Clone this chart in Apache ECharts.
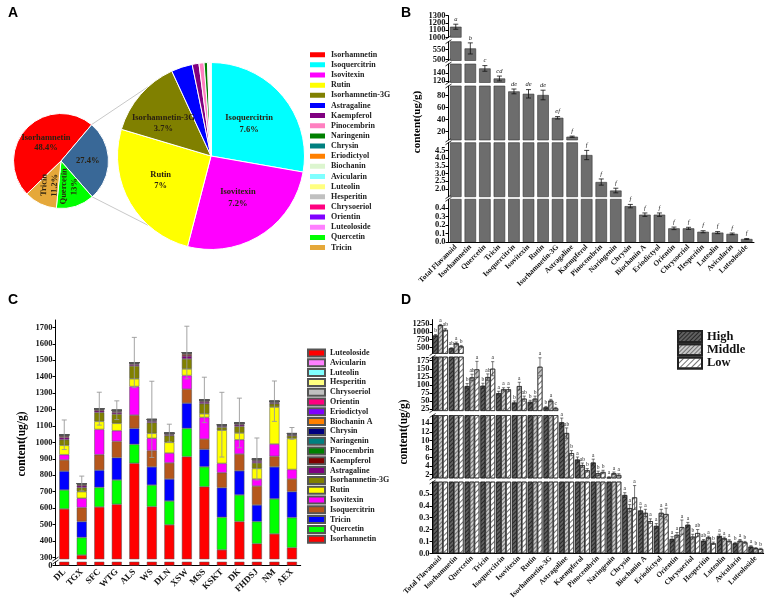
<!DOCTYPE html>
<html><head><meta charset="utf-8">
<script src="https://cdn.jsdelivr.net/npm/echarts@6/dist/echarts.min.js"></script>
<style>
html,body{margin:0;padding:0;background:#fff;width:767px;height:598px;overflow:hidden}
.c{position:absolute;left:0;top:0;width:767px;height:598px}
</style></head><body>
<div id="pa" class="c"></div><div id="pb" class="c"></div><div id="pc" class="c"></div><div id="pd" class="c"></div>
<script>
// ---------------- Panel A data ----------------
const aSmallNames = ['Isorhamnetin','Others','Quercetin','Tricin'];
const aSmallValues = [48.4, 27.4, 13, 11.2];
const aSmallLabels = ['Isorhamnetin\n48.4%','27.4%','Quercetin\n13%','Tricin\n11.2%'];
const aLargeNames = ['Isoquercitrin','Isovitexin','Rutin','Isorhamnetin-3G','Astragaline','Kaempferol','Pinocembrin','Naringenin','Chrysin','Eriodictyol','Biochanin','Avicularin','Luteolin','Hesperitin','Chrysoeriol','Orientin','Luteoloside'];
const aLargeValues = [7.6, 7.2, 7.0, 3.7, 1.0, 0.32, 0.24, 0.16, 0.04, 0.03, 0.03, 0.01, 0.01, 0.01, 0.015, 0.015, 0.005];
const aLegendNames = ['Isorhamnetin','Isoquercitrin','Isovitexin','Rutin','Isorhamnetin-3G','Astragaline','Kaempferol','Pinocembrin','Naringenin','Chrysin','Eriodictyol','Biochanin','Avicularin','Luteolin','Hesperitin','Chrysoeriol','Orientin','Luteoloside','Quercetin','Tricin'];

// ---------------- Panel B data ----------------
const bCats = ['Total Flavanoid','Isorhamnetin','Quercetin','Tricin','Isoquercitrin','Isovitexin','Rutin','Isorhamnetin-3G','Astragaline','Kaempferol','Pinocembrin','Naringenin','Chrysin','Biochanin A','Eriodictyol','Orientin','Chrysoeriol','Hesperitin','Luteolin','Avicularin','Luteoloside'];
const bMeans = [1147, 556, 151, 126, 87, 83, 81, 43, 11.5, 4.2, 2.45, 1.9, 0.42, 0.32, 0.32, 0.16, 0.16, 0.12, 0.11, 0.095, 0.035];
const bErrs  = [35, 28, 7, 6, 4, 7, 8, 2, 1, 0.3, 0.2, 0.15, 0.02, 0.02, 0.02, 0.015, 0.012, 0.012, 0.012, 0.01, 0.006];
const bSig   = ['a','b','c','cd','de','de','de','ef','f','f','f','f','f','f','f','f','f','f','f','f','f'];
const bSegMin = [1000, 495, 116, 6, 1.5, 0];
const bSegMax = [1300, 590, 162, 96, 5, 0.5];
const bSegTicks = [[1000,1100,1200,1300],[500,550],[120,140],[20,40,60,80],[2,2.5,3,3.5,4,4.5],[0,0.1,0.2,0.3,0.4]];

// ---------------- Panel C data ----------------
const cSites = ['DL','TGX','SFC','WTG','ALS','WS','DLN','XSW','MSS','KSKT','DK','FHDSJ','NM','AEX'];
const cIsorhamnetin   = [595, 314, 607, 623, 873, 609, 498, 913, 730, 346, 518, 383, 443, 359];
const cQuercetin      = [115, 107, 119, 148, 115, 131, 145, 172, 121, 198, 162, 135, 213, 183];
const cTricin         = [115, 97, 105, 136, 97, 111, 134, 154, 107, 180, 147, 101, 195, 158];
const cIsoquercitrin  = [68, 85, 94, 99, 81, 99, 98, 85, 62, 91, 102, 115, 64, 77];
const cIsovitexin     = [32, 57, 154, 65, 174, 75, 60, 83, 132, 57, 87, 43, 75, 58];
const cRutin          = [57, 40, 49, 45, 47, 30, 65, 40, 22, 202, 41, 64, 225, 189];
const cIsorhamnetin3G = [34, 24, 54, 56, 78, 65, 41, 61, 61, 18, 40, 34, 20, 16];
const cAstragaline    = [14, 12, 11, 11, 10, 9, 7, 18, 11, 7, 10, 11, 7, 6];
const cKaempferol     = [8, 7, 6, 6, 5, 5, 4, 11, 6, 4, 5, 6, 4, 4];
const cPinocembrin    = [4, 3, 3, 3, 3, 3, 2, 5, 3, 2, 3, 3, 2, 2];
const cNaringenin     = [2.5, 2, 1.5, 2, 1.5, 1.5, 1.2, 3, 2, 1.2, 1.5, 2, 1.2, 1];
const cChrysin        = [0.5, 0.4, 0.4, 0.5, 0.4, 0.4, 0.3, 0.6, 0.4, 0.3, 0.4, 0.4, 0.3, 0.3];
const cBiochaninA     = [0.35, 0.3, 0.3, 0.35, 0.3, 0.3, 0.25, 0.4, 0.3, 0.25, 0.3, 0.3, 0.25, 0.25];
const cEriodictyol    = [0.3, 0.3, 0.35, 0.3, 0.3, 0.3, 0.3, 0.35, 0.3, 0.3, 0.35, 0.3, 0.3, 0.3];
const cOrientin       = [0.16, 0.15, 0.17, 0.16, 0.15, 0.16, 0.14, 0.18, 0.16, 0.15, 0.16, 0.16, 0.15, 0.15];
const cChrysoeriol    = [0.15, 0.16, 0.17, 0.15, 0.16, 0.15, 0.15, 0.18, 0.16, 0.15, 0.16, 0.17, 0.15, 0.14];
const cHesperitin     = [0.12, 0.11, 0.13, 0.12, 0.12, 0.12, 0.11, 0.14, 0.12, 0.11, 0.12, 0.12, 0.11, 0.11];
const cLuteolin       = [0.11, 0.1, 0.12, 0.11, 0.11, 0.11, 0.1, 0.13, 0.11, 0.1, 0.11, 0.11, 0.1, 0.1];
const cAvicularin     = [0.09, 0.09, 0.1, 0.09, 0.09, 0.09, 0.08, 0.1, 0.09, 0.09, 0.09, 0.09, 0.08, 0.08];
const cLuteoloside    = [0.04, 0.03, 0.04, 0.04, 0.04, 0.04, 0.03, 0.05, 0.04, 0.03, 0.04, 0.04, 0.03, 0.03];
const cErrors         = [90, 45, 100, 57, 153, 232, 54, 160, 138, 197, 151, 128, 123, 36];
const cTicksUpper = [300,400,500,600,700,800,900,1000,1100,1200,1300,1400,1500,1600,1700];
const cTicksLower = [0];

// ---------------- Panel D data ----------------
const dCats = bCats;
const dHigh   = [885, 468, 96, 97, 74, 45, 47, 30, 14.2, 5.5, 4.8, 1.3, 0.49, 0.36, 0.23, 0.12, 0.24, 0.106, 0.146, 0.084, 0.056];
const dMiddle = [1218, 630, 123, 124, 86, 96, 57, 51, 11.7, 4.2, 2.3, 2.3, 0.38, 0.34, 0.34, 0.155, 0.14, 0.134, 0.126, 0.106, 0.042];
const dLow    = [1067, 532, 148, 150, 86, 57, 156, 27, 7.0, 3.0, 2.6, 1.9, 0.47, 0.27, 0.33, 0.22, 0.17, 0.084, 0.104, 0.092, 0.036];
const dHighErr   = [30, 20, 8, 8, 6, 5, 5, 3, 1.0, 0.6, 0.8, 0.2, 0.02, 0.03, 0.02, 0.02, 0.02, 0.01, 0.015, 0.008, 0.008];
const dMiddleErr = [25, 40, 10, 10, 5, 12, 8, 4, 1.2, 0.5, 0.5, 0.3, 0.03, 0.03, 0.03, 0.02, 0.02, 0.01, 0.01, 0.01, 0.006];
const dLowErr    = [40, 30, 25, 22, 6, 8, 28, 3, 0.6, 0.4, 0.4, 0.3, 0.1, 0.02, 0.05, 0.06, 0.03, 0.01, 0.01, 0.008, 0.006];
const dHighSig   = ['b','ab','b','b','a','b','b','b','a','a','a','a','a','a','a','a','a','ab','a','b','a'];
const dMiddleSig = ['a','a','ab','ab','a','a','b','a','ab','ab','b','a','a','a','a','a','b','a','a','a','b'];
const dLowSig    = ['ab','b','a','a','a','ab','a','c','b','b','b','a','a','a','a','a','ab','b','a','b','b'];
const dSegMin = [300, 20, 1.2, 0];
const dSegMax = [1400, 186.5, 15.8, 0.6];
const dSegTicks = [[500,750,1000,1250],[25,50,75,100,125,150,175],[2,4,6,8,10,12,14],[0,0.1,0.2,0.3,0.4,0.5]];

// ---------------- styles / layout ----------------
const SERIF = 'Liberation Serif';
const aColors = {Isorhamnetin:'#ff0000', Isoquercitrin:'#00ffff', Isovitexin:'#ff00ff', Rutin:'#ffff00', 'Isorhamnetin-3G':'#808000', Astragaline:'#0000ff', Kaempferol:'#800080', Pinocembrin:'#ff80c0', Naringenin:'#008000', Chrysin:'#008080', Eriodictyol:'#ff8000', Biochanin:'#dcf5cf', Avicularin:'#80ffff', Luteolin:'#ffff80', Hesperitin:'#c0c0c0', Chrysoeriol:'#ff0080', Orientin:'#8000ff', Luteoloside:'#ff80ff', Quercetin:'#00ff00', Tricin:'#e5a83a', Others:'#396897'};
const cColors = {Isorhamnetin:'#ff0000', Quercetin:'#00ff00', Tricin:'#0000ff', Isoquercitrin:'#b5571c', Isovitexin:'#ff00ff', Rutin:'#ffff00', 'Isorhamnetin-3G':'#808000', Astragaline:'#800080', Kaempferol:'#800000', Pinocembrin:'#008000', Naringenin:'#008080', Chrysin:'#000080', 'Biochanin A':'#ff8000', Eriodictyol:'#8000ff', Orientin:'#ff0080', Chrysoeriol:'#c0c0c0', Hesperitin:'#ffff80', Luteolin:'#80ffff', Avicularin:'#ff80ff', Luteoloside:'#ff0000'};
// label nudges (padding) for pie labels, style only
const aSmallPad = {Isorhamnetin:[0,0,28,9], Others:[0,0,6,0]};
const aLargePad = {Isoquercitrin:[0,0,8,0], Isovitexin:[36,0,0,0], Rutin:[22,14,0,0], 'Isorhamnetin-3G':[0,20,6,0]};

function lbl(size, extra){ return Object.assign({fontFamily:SERIF, fontWeight:'bold', fontSize:size, color:'#111'}, extra||{}); }
function panelLetter(t,x,y){ return {type:'text', x:x, y:y, style:{text:t, fontFamily:'Liberation Sans', fontWeight:'bold', fontSize:14, fill:'#000'}}; }
function vName(t,x,y,size){ return {type:'text', x:x, y:y, rotation:Math.PI/2, style:{text:t, fontFamily:SERIF, fontWeight:'bold', fontSize:size, fill:'#000', align:'center', verticalAlign:'middle'}}; }
function slash(x,y){ return {type:'line', shape:{x1:x-3,y1:y+2,x2:x+3,y2:y-2}, style:{stroke:'#000', lineWidth:0.8}}; }

function errSeries(xi, yi, means, errs, sigs, o){
  return {
    type:'custom', xAxisIndex:xi, yAxisIndex:yi, silent:true, z:5,
    dimensions:['i','m','e'], encode:{x:0, y:1},
    data: means.map((m,i)=>[i,m,errs[i]]),
    renderItem(params, api){
      const i=api.value(0), m=api.value(1), e=api.value(2);
      const cs=params.coordSys; const top=cs.y, bot=cs.y+cs.height;
      const pm=api.coord([i,m]);
      const x=pm[0]+o.off, yM=pm[1];
      const yH=api.coord([i,m+e])[1], yL=api.coord([i,m-e])[1];
      const st={stroke:o.color, lineWidth:o.lw};
      const ch=[];
      const a=Math.max(yH,top), b=Math.min(yL,bot);
      if(a<b){
        ch.push({type:'line', shape:{x1:x,y1:a,x2:x,y2:b}, style:st});
        if(yH>=top && yH<=bot) ch.push({type:'line', shape:{x1:x-o.cap,y1:yH,x2:x+o.cap,y2:yH}, style:st});
        if(yL>=top && yL<=bot) ch.push({type:'line', shape:{x1:x-o.cap,y1:yL,x2:x+o.cap,y2:yL}, style:st});
      }
      if(sigs && yM>=top-0.01 && yM<=bot){
        ch.push({type:'text', x:x, y:yH-o.gap, style:{text:sigs[i], fill:'#222', fontFamily:SERIF, fontSize:o.fs, fontStyle:o.italic?'italic':'normal', align:'center', verticalAlign:'bottom'}});
      }
      return {type:'group', children:ch};
    }
  };
}
// two value axes per segment: the first draws line, ticks and even-indexed labels; the second the odd-indexed labels
function yAxesCfg(k, min, max, ticks, fmt){
  const even = ticks.filter((_,i)=>i%2===0), odd = ticks.filter((_,i)=>i%2===1);
  const base = {type:'value', gridIndex:k, min:min, max:max, position:'left', offset:0, splitLine:{show:false}};
  const main = Object.assign({}, base, {
    axisLine:{show:true, lineStyle:{color:'#000'}},
    axisTick:{show:true, length:3, customValues:ticks, lineStyle:{color:'#000'}},
    axisLabel:lbl(8.5,{customValues:even, margin:3, formatter:fmt})});
  const aux = Object.assign({}, base, {
    axisLine:{show:false}, axisTick:{show:false},
    axisLabel:lbl(8.5,{show:odd.length>0, customValues:odd.length?odd:[min], margin:3, formatter:fmt})});
  return [main, aux];
}
const fmtInt = v=>String(v);
const fmt1 = v=>Number(v).toFixed(1);

// ================= Panel A =================
(function(){
  const ch = echarts.init(document.getElementById('pa'));
  const cS=[61,161], rS=47.5, cL=[211,156], rL=93.5;
  const small = aSmallNames.map((n,i)=>{
    const it={name:n, value:aSmallValues[i], itemStyle:{color:aColors[n]}, label:{formatter:aSmallLabels[i]}};
    if(aSmallPad[n]) it.label.padding=aSmallPad[n];
    if(n==='Quercetin'||n==='Tricin') it.label.rotate=88;
    return it;
  });
  const large = aLargeNames.map((n,i)=>{
    const it={name:n, value:aLargeValues[i], itemStyle:{color:aColors[n]}, label:{show:aLargeValues[i]>=3}};
    if(aLargePad[n]) it.label.padding=aLargePad[n];
    return it;
  });
  const deg=Math.PI/180;
  const p1=[cS[0]+rS*Math.cos(50*deg), cS[1]-rS*Math.sin(50*deg)];
  const p2=[cS[0]+rS*Math.cos(-49*deg), cS[1]-rS*Math.sin(-49*deg)];
  const q1=[cL[0]+rL*Math.cos(132*deg), cL[1]-rL*Math.sin(132*deg)];
  const q2=[cL[0]+rL*Math.cos(-132*deg), cL[1]-rL*Math.sin(-132*deg)];
  ch.setOption({
    animation:false,
    graphic:[
      panelLetter('A',8,6),
      {type:'line', shape:{x1:p1[0],y1:p1[1],x2:q1[0],y2:q1[1]}, style:{stroke:'#c8c8c8', lineWidth:1}},
      {type:'line', shape:{x1:p2[0],y1:p2[1],x2:q2[0],y2:q2[1]}, style:{stroke:'#c8c8c8', lineWidth:1}}
    ],
    legend:{orient:'vertical', left:308, top:49.7, itemWidth:17, itemHeight:7, itemGap:0.15, padding:0, icon:'rect', selectedMode:false, data:aLegendNames,
      textStyle:{fontFamily:SERIF, fontWeight:'bold', fontSize:8, color:'#222', lineHeight:10}},
    series:[
      {type:'pie', center:cS, radius:rS, startAngle:224, clockwise:true, silent:true, avoidLabelOverlap:false,
       itemStyle:{borderColor:'#fff', borderWidth:1}, labelLine:{show:false}, labelLayout:{hideOverlap:false},
       label:{position:'inside', fontFamily:SERIF, fontWeight:'bold', fontSize:8.5, color:'#2a2010', lineHeight:10.5},
       data:small},
      {type:'pie', center:cL, radius:rL, startAngle:90, clockwise:true, silent:true, avoidLabelOverlap:false,
       itemStyle:{borderColor:'#fff', borderWidth:1}, labelLine:{show:false}, labelLayout:{hideOverlap:false},
       label:{position:'inside', formatter:'{b}\n{c}%', fontFamily:SERIF, fontWeight:'bold', fontSize:8.5, color:'#2a2010', lineHeight:11.5},
       data:large}
    ]
  });
})();

// ================= Panel B =================
(function(){
  const ch = echarts.init(document.getElementById('pb'));
  const lay=[[15.7,37.3],[41.7,60.5],[64,82.5],[86,140],[142.7,196.7],[199.3,242]];
  const X0=448.5, X1=754;
  const grid=[], xA=[], yA=[], ser=[], gr=[panelLetter('B',401,6), vName('content(ug/g)',417,122,11)];
  lay.forEach((s,k)=>{
    const last = k===lay.length-1;
    grid.push({left:X0, top:s[0], width:X1-X0, height:s[1]-s[0], containLabel:false, outerBoundsMode:'none'});
    xA.push({type:'category', gridIndex:k, data:bCats, show:last,
      axisLine:{lineStyle:{color:'#000'}}, axisTick:{alignWithLabel:true, length:3, lineStyle:{color:'#000'}},
      axisLabel:lbl(7.5,{rotate:45, interval:0, margin:4})});
    yAxesCfg(k, bSegMin[k], bSegMax[k], bSegTicks[k], k>=4?fmt1:fmtInt).forEach(a=>yA.push(a));
    ser.push({type:'bar', xAxisIndex:k, yAxisIndex:2*k, data:bMeans, barWidth:11.5, clip:true, silent:true,
      itemStyle:{color:'#6d6d6d', borderColor:'#333', borderWidth:0.6}});
    ser.push(errSeries(k,2*k,bMeans,bErrs,bSig,{off:0, cap:2.5, color:'#111', lw:0.8, gap:1.5, fs:6.5, italic:true}));
    if(!last){ gr.push(slash(X0, s[1])); gr.push(slash(X0, lay[k+1][0])); }
  });
  ch.setOption({animation:false, grid, xAxis:xA, yAxis:yA, series:ser, graphic:gr});
})();

// ================= Panel C =================
(function(){
  const ch = echarts.init(document.getElementById('pc'));
  const stack = [
    ['Isorhamnetin', cIsorhamnetin], ['Quercetin', cQuercetin], ['Tricin', cTricin], ['Isoquercitrin', cIsoquercitrin],
    ['Isovitexin', cIsovitexin], ['Rutin', cRutin], ['Isorhamnetin-3G', cIsorhamnetin3G], ['Astragaline', cAstragaline],
    ['Kaempferol', cKaempferol], ['Pinocembrin', cPinocembrin], ['Naringenin', cNaringenin], ['Chrysin', cChrysin],
    ['Biochanin A', cBiochaninA], ['Eriodictyol', cEriodictyol], ['Orientin', cOrientin], ['Chrysoeriol', cChrysoeriol],
    ['Hesperitin', cHesperitin], ['Luteolin', cLuteolin], ['Avicularin', cAvicularin], ['Luteoloside', cLuteoloside]
  ];
  const totals = cSites.map((_,i)=>stack.reduce((s,r)=>s+r[1][i],0));
  const X0=55.5, X1=300.7;
  const lay=[[320,559],[562,565.5]];
  const mins=[290,0], maxs=[1745,20], ticks=[cTicksUpper,cTicksLower];
  const grid=[], xA=[], yA=[], ser=[];
  lay.forEach((s,k)=>{
    const last=k===1;
    grid.push({left:X0, top:s[0], width:X1-X0, height:s[1]-s[0], containLabel:false, outerBoundsMode:'none'});
    xA.push({type:'category', gridIndex:k, data:cSites, show:last,
      axisLine:{lineStyle:{color:'#000'}}, axisTick:{alignWithLabel:true, length:3, lineStyle:{color:'#000'}},
      axisLabel:lbl(9,{rotate:45, interval:0, margin:5})});
    yAxesCfg(k, mins[k], maxs[k], ticks[k], fmtInt).forEach(a=>yA.push(a));
    stack.forEach(r=>{
      ser.push({type:'bar', name:r[0], xAxisIndex:k, yAxisIndex:2*k, stack:'s'+k, data:r[1], barWidth:10, clip:true, silent:true,
        itemStyle:{color:cColors[r[0]], borderColor:'#555', borderWidth:0.5}});
    });
  });
  ser.push(errSeries(0,0,totals,cErrors,null,{off:0, cap:2.5, color:'#9a9a9a', lw:0.9, gap:0, fs:6}));
  ch.setOption({animation:false, grid, xAxis:xA, yAxis:yA, series:ser,
    legend:{orient:'vertical', left:307, top:348.1, itemWidth:17, itemHeight:7, itemGap:0, padding:0, icon:'rect', selectedMode:false,
      data:stack.map(r=>r[0]).reverse(), textStyle:{fontFamily:SERIF, fontWeight:'bold', fontSize:8, color:'#222', lineHeight:9.8}},
    graphic:[panelLetter('C',8,293), vName('content(ug/g)',22,444,11.5), slash(X0,559), slash(X0,562)]});
})();

// ================= Panel D =================
(function(){
  const ch = echarts.init(document.getElementById('pd'));
  const lay=[[319.6,353.5],[357,410.6],[415.5,478],[482,553.3]];
  const X0=432.6, X1=763.7, W=4.9;
  const groups=[
    {name:'High', m:dHigh, e:dHighErr, s:dHighSig, color:'#606060', decal:{symbol:'rect', symbolSize:1, color:'rgba(20,20,20,0.75)', dashArrayX:[1,0], dashArrayY:[1,2], rotation:-Math.PI/4}, off:-W},
    {name:'Middle', m:dMiddle, e:dMiddleErr, s:dMiddleSig, color:'#c8c8c8', decal:{symbol:'rect', symbolSize:1, color:'rgba(90,90,90,0.8)', dashArrayX:[1,0], dashArrayY:[1,2], rotation:-Math.PI/4}, off:0},
    {name:'Low', m:dLow, e:dLowErr, s:dLowSig, color:'#ffffff', decal:{symbol:'rect', symbolSize:1, color:'rgba(90,90,90,0.85)', dashArrayX:[1,0], dashArrayY:[1,3], rotation:-Math.PI/4}, off:W}
  ];
  const grid=[], xA=[], yA=[], ser=[], gr=[panelLetter('D',401,293), vName('content(ug/g)',404,432,11.5)];
  lay.forEach((s,k)=>{
    const last=k===lay.length-1;
    grid.push({left:X0, top:s[0], width:X1-X0, height:s[1]-s[0], containLabel:false, outerBoundsMode:'none'});
    xA.push({type:'category', gridIndex:k, data:dCats, show:last,
      axisLine:{lineStyle:{color:'#000'}}, axisTick:{alignWithLabel:true, length:3, lineStyle:{color:'#000'}},
      axisLabel:lbl(7.5,{rotate:45, interval:0, margin:4})});
    yAxesCfg(k, dSegMin[k], dSegMax[k], dSegTicks[k], k===3?fmt1:fmtInt).forEach(a=>yA.push(a));
    groups.forEach(g=>{
      ser.push({type:'bar', name:g.name, xAxisIndex:k, yAxisIndex:2*k, data:g.m, barWidth:W, barGap:'0%', clip:true, silent:true,
        itemStyle:{color:g.color, borderColor:'#222', borderWidth:0.6, decal:g.decal}});
    });
    groups.forEach(g=>{
      ser.push(errSeries(k,2*k,g.m,g.e,g.s,{off:g.off, cap:1.6, color:'#222', lw:0.6, gap:0.8, fs:5.5}));
    });
    if(!last){ gr.push(slash(X0, s[1])); gr.push(slash(X0, lay[k+1][0])); }
  });
  ch.setOption({animation:false, grid, xAxis:xA, yAxis:yA, series:ser, graphic:gr,
    legend:{orient:'vertical', left:677, top:330, itemWidth:24, itemHeight:11, itemGap:0.3, padding:0, icon:'rect', selectedMode:false,
      data:['High','Middle','Low'], textStyle:{fontFamily:SERIF, fontWeight:'bold', fontSize:12.5, color:'#111', lineHeight:13}}});
})();
</script></body></html>
